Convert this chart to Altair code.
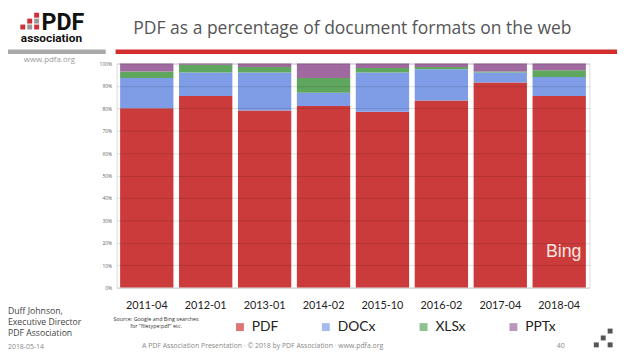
import altair as alt
import pandas as pd

# ---- data ----
dates = ["2011-04", "2012-01", "2013-01", "2014-02", "2015-10", "2016-02", "2017-04", "2018-04"]
formats = ["PDF", "DOCx", "XLSx", "PPTx"]
pdf = [80, 85.5, 79, 81, 78.5, 83.5, 91.5, 85.5]
docx = [13.5, 10.5, 17, 6, 17.5, 14, 4.5, 8.5]
xlsx = [3, 3.5, 2.5, 6.5, 2, 1, 0.5, 3]
pptx = [3.5, 0.5, 1.5, 6.5, 2, 1.5, 3.5, 3]
colors = ["#cc3b3c", "#7f9de6", "#5fa65f", "#a0699f"]
y_ticks = [0, 10, 20, 30, 40, 50, 60, 70, 80, 90, 100]

title_text = "PDF as a percentage of document formats on the web"
source_text = "Source: Google and Bing searches\nfor \"filetype:pdf\" etc."
author_lines = ["Duff Johnson,", "Executive Director", "PDF Association"]
date_text = "2018-05-14"
footer_text = "A PDF Association Presentation · © 2018 by PDF Association · www.pdfa.org"
page_text = "40"
engine_text = "Bing"

rows = []
for i, d in enumerate(dates):
    for k, (f, vals) in enumerate(zip(formats, [pdf, docx, xlsx, pptx])):
        rows.append({"date": d, "format": f, "share": vals[i], "order": k})
df = pd.DataFrame(rows)

bars = alt.Chart(df).mark_bar().encode(
    x=alt.X("date:N", sort=dates,
            scale=alt.Scale(paddingInner=0.095, paddingOuter=0.06),
            axis=alt.Axis(title=None, labelAngle=0, labelFont="Lato", labelFontSize=11,
                          labelColor="#222", labelPadding=12, ticks=False, domain=False)),
    y=alt.Y("share:Q", stack="zero", scale=alt.Scale(domain=[0, 100], nice=False),
            axis=alt.Axis(title=None, values=y_ticks, labelExpr="datum.value + '%'",
                          labelFontSize=5, labelColor="#666", ticks=False, domain=False,
                          labelPadding=5, gridColor="#000", gridOpacity=0.13, zindex=1)),
    color=alt.Color("format:N", sort=formats,
                    scale=alt.Scale(domain=formats, range=colors),
                    legend=alt.Legend(title=None, orient="none", legendX=118, legendY=260,
                                      direction="horizontal", symbolType="square",
                                      symbolSize=64, symbolOpacity=0.7, symbolStrokeWidth=0,
                                      labelFont="Lato", labelFontSize=14, labelColor="#222",
                                      labelOffset=5, columnPadding=41, padding=0)),
    order=alt.Order("order:Q", sort="ascending"),
)

def txt(s, x, y, **kw):
    return alt.Chart(pd.DataFrame({"t": [s]})).mark_text(**kw).encode(
        text="t:N", x=alt.value(x), y=alt.value(y))

def rule(x1, x2, y, color, w):
    return alt.Chart(pd.DataFrame({"a": [0]})).mark_rule(color=color, strokeWidth=w).encode(
        x=alt.value(x1), x2=alt.value(x2), y=alt.value(y))

def squares(pts, color):
    d = pd.DataFrame({"px": [p[0] for p in pts], "py": [p[1] for p in pts]})
    return alt.Chart(d).mark_square(size=25, color=color, opacity=1).encode(
        x=alt.X("px:Q", scale=None), y=alt.Y("py:Q", scale=None))

layers = [
    bars,
    txt(title_text, 17, -35, align="left", baseline="middle", font="Open Sans",
        fontSize=17.7, color="#555"),
    rule(-1, 507, -12, "#d42d2d", 4.5),
    rule(-116, -11, -12, "#aaaaaa", 4.5),
    txt("www.pdfa.org", -94, -4, align="left", baseline="middle", font="Open Sans",
        fontSize=8, color="#999"),
    txt("PDF", -76, -34, align="left", baseline="alphabetic", font="Roboto",
        fontSize=23.5, fontWeight="bold", color="#111"),
    txt("association", -97, -22, align="left", baseline="alphabetic", font="Roboto",
        fontSize=12, fontWeight="bold", color="#111"),
    squares([(-81, -49), (-88, -43), (-95, -37), (-81, -37)], "#d0303a"),
    squares([(-81, -43), (-88, -37)], "#9a9a9a"),
    txt(engine_text, 435, 196, align="left", baseline="alphabetic",
        font="Liberation Sans", fontSize=18, color="#f8e6e0"),
    txt(source_text, 40, 259, align="center", baseline="middle", font="Open Sans",
        fontSize=5.5, color="#333", lineBreak="\n", lineHeight=7),
    txt(author_lines[0], -110, 251, align="left", baseline="middle", font="Open Sans",
        fontSize=8.8, color="#444"),
    txt(author_lines[1], -110, 262, align="left", baseline="middle", font="Open Sans",
        fontSize=8.8, color="#444"),
    txt(author_lines[2], -110, 273, align="left", baseline="middle", font="Open Sans",
        fontSize=8.8, color="#444"),
    txt(date_text, -110, 287, align="left", baseline="middle", font="Open Sans",
        fontSize=7, color="#888"),
    txt(footer_text, 148, 286, align="center", baseline="middle", font="Open Sans",
        fontSize=7, color="#888"),
    txt(page_text, 450, 286, align="center", baseline="middle", font="Open Sans",
        fontSize=7, color="#888"),
    squares([(500, 271), (493, 278), (486, 285), (500, 285)], "#555555"),
]

chart = alt.layer(*layers).properties(
    width=479, height=227,
    padding={"left": 110, "top": 54, "right": 31, "bottom": 67},
    autosize=alt.AutoSizeParams(type="none"),
).configure_view(stroke=None).configure(font="Open Sans", background="white")

chart.save("out.html", embed_options={"renderer": "svg", "actions": False})
